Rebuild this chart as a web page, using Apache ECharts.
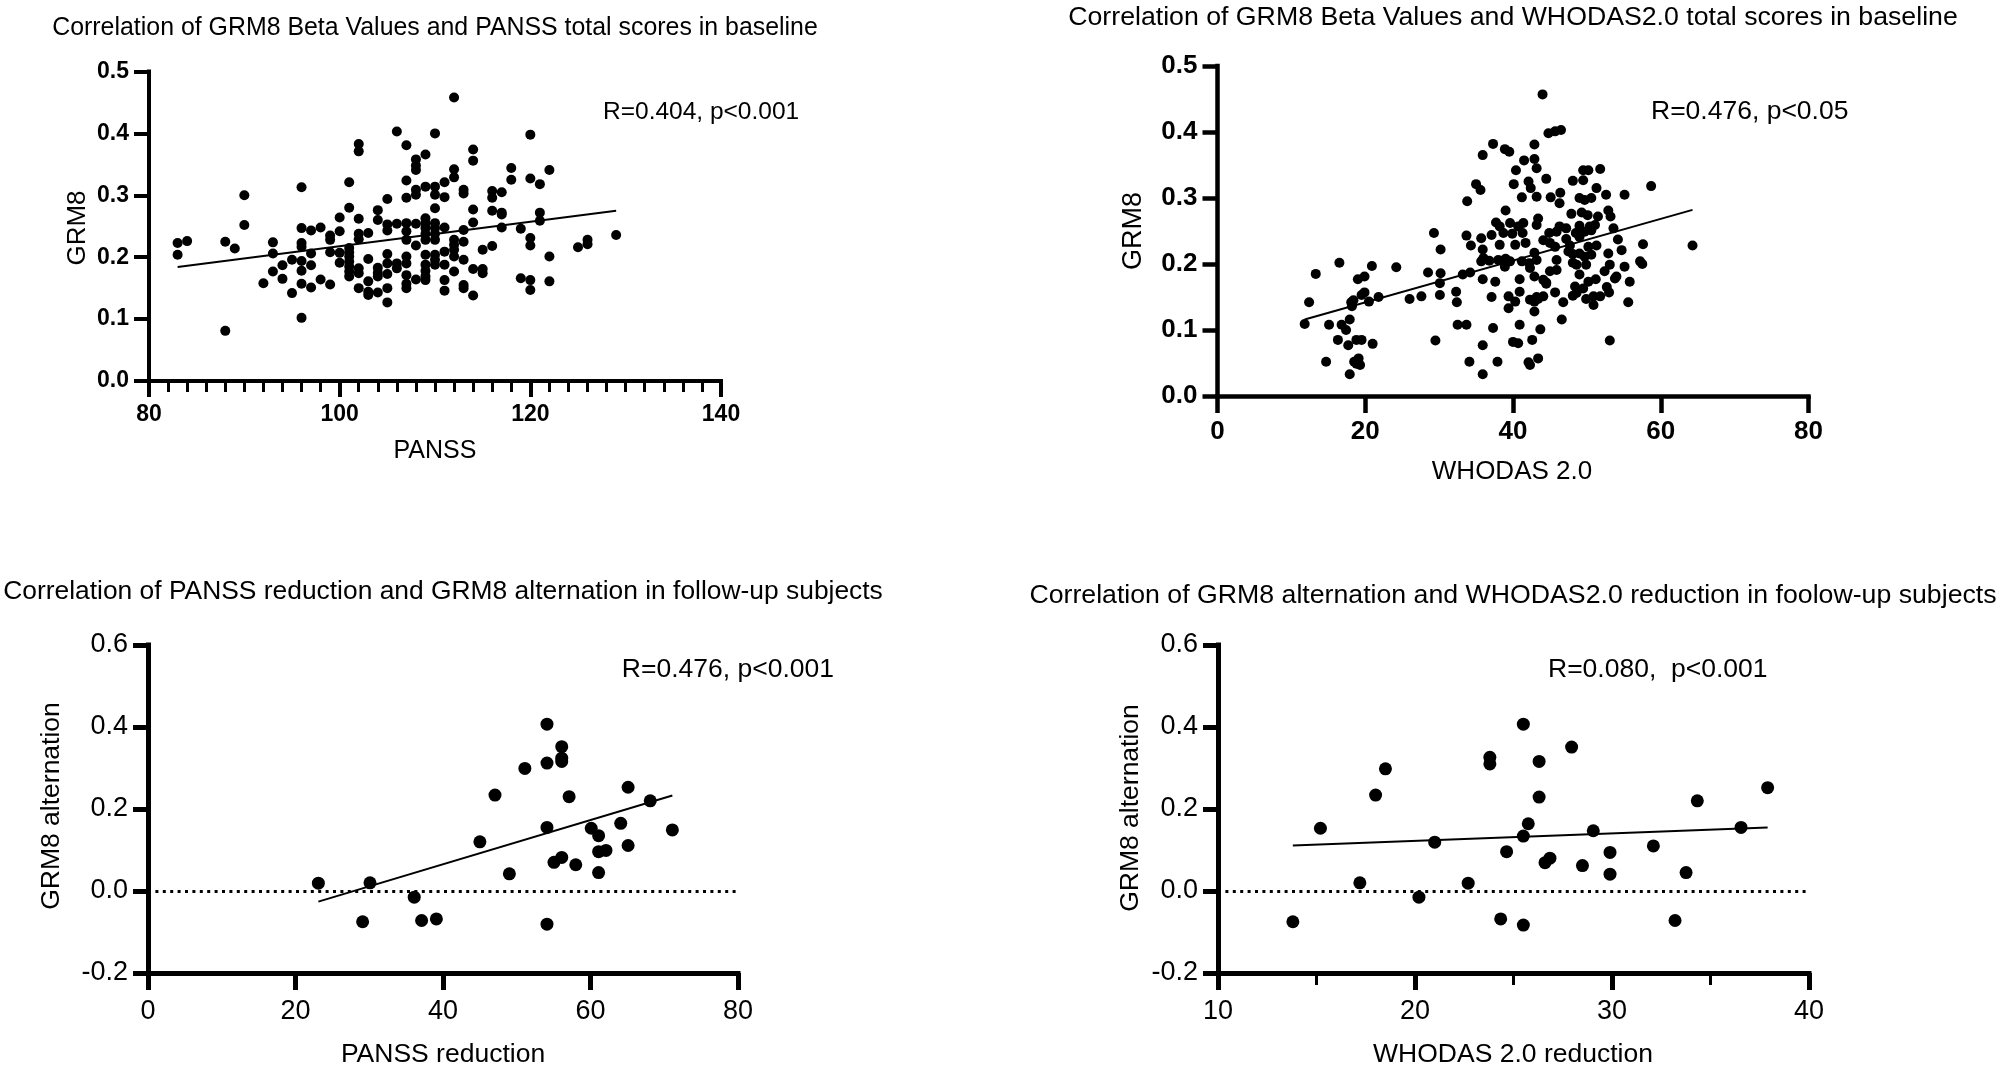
<!DOCTYPE html>
<html>
<head>
<meta charset="utf-8">
<script src="https://cdn.jsdelivr.net/npm/echarts@6/dist/echarts.min.js"></script>
<style>
html,body{margin:0;padding:0;background:#fff;}
#chart{width:2000px;height:1067px;}
</style>
</head>
<body>
<div id="chart"></div>
<script>
// ---------- DATA ----------
// Panel 1: PANSS total vs GRM8 beta (baseline)
const panssBaseline = [
[83,0.223],[83,0.204],[84,0.226],[88,0.225],[88,0.081],[89,0.214],[90,0.300],[90,0.252],[92,0.158],
[93,0.224],[93,0.206],[93,0.177],[94,0.187],[94,0.165],[95,0.196],[95,0.142],
[96,0.313],[96,0.247],[96,0.223],[96,0.217],[96,0.194],[96,0.178],[96,0.157],[96,0.102],
[97,0.243],[97,0.206],[97,0.187],[97,0.151],[98,0.248],[98,0.164],
[99,0.235],[99,0.228],[99,0.208],[99,0.156],[100,0.264],[100,0.242],[100,0.207],[100,0.191],
[101,0.321],[101,0.280],[101,0.215],[101,0.208],[101,0.201],[101,0.193],[101,0.185],[101,0.177],[101,0.169],
[102,0.383],[102,0.371],[102,0.262],[102,0.238],[102,0.229],[102,0.182],[102,0.174],[102,0.150],
[103,0.239],[103,0.197],[103,0.161],[103,0.144],[103,0.139],
[104,0.276],[104,0.260],[104,0.183],[104,0.175],[104,0.169],[104,0.143],
[105,0.294],[105,0.253],[105,0.243],[105,0.205],[105,0.190],[105,0.173],[105,0.150],[105,0.127],
[106,0.403],[106,0.254],[106,0.190],[106,0.182],
[107,0.381],[107,0.324],[107,0.296],[107,0.255],[107,0.242],[107,0.228],[107,0.201],[107,0.190],[107,0.171],[107,0.157],[107,0.150],
[108,0.358],[108,0.348],[108,0.341],[108,0.309],[108,0.301],[108,0.254],[108,0.219],[108,0.164],
[109,0.366],[109,0.314],[109,0.263],[109,0.255],[109,0.247],[109,0.238],[109,0.228],[109,0.204],[109,0.188],[109,0.178],[109,0.169],[109,0.163],
[110,0.400],[110,0.314],[110,0.301],[110,0.279],[110,0.255],[110,0.247],[110,0.238],[110,0.228],[110,0.204],[110,0.196],[110,0.188],
[111,0.321],[111,0.297],[111,0.248],[111,0.209],[111,0.188],[111,0.163],[111,0.146],
[112,0.458],[112,0.342],[112,0.329],[112,0.228],[112,0.220],[112,0.212],[112,0.201],[112,0.177],
[113,0.309],[113,0.303],[113,0.244],[113,0.225],[113,0.196],[113,0.155],[113,0.150],
[114,0.374],[114,0.356],[114,0.277],[114,0.256],[114,0.181],[114,0.138],
[115,0.212],[115,0.181],[115,0.174],[116,0.307],[116,0.296],[116,0.275],[116,0.218],
[117,0.305],[117,0.272],[117,0.269],[117,0.248],[118,0.344],[118,0.325],[119,0.246],[119,0.166],
[120,0.398],[120,0.327],[120,0.231],[120,0.219],[120,0.163],[120,0.147],
[121,0.318],[121,0.272],[121,0.259],[122,0.341],[122,0.201],[122,0.161],
[125,0.216],[126,0.228],[126,0.221],[129,0.236]
];
const fitPanssBaseline = [[83,0.184],[129,0.275]];

// Panel 2: WHODAS 2.0 total vs GRM8 beta (baseline)
const whodasBaseline = [
[44.0,0.457],[44.8,0.398],[45.7,0.401],[46.5,0.403],[37.3,0.382],[35.9,0.365],[38.9,0.374],[39.5,0.370],[42.9,0.381],
[41.5,0.357],[42.9,0.359],[43.2,0.345],[40.4,0.342],[44.5,0.329],[49.5,0.342],[50.2,0.342],[51.8,0.344],
[35.0,0.321],[35.6,0.312],[40.1,0.321],[42.1,0.325],[42.4,0.315],[48.1,0.326],[49.5,0.327],[58.7,0.318],
[33.8,0.295],[41.2,0.301],[43.2,0.302],[45.1,0.301],[46.4,0.308],[46.3,0.292],[49.0,0.300],[49.7,0.297],[50.6,0.300],[51.3,0.315],[52.6,0.305],[55.1,0.305],
[39.0,0.281],[47.9,0.276],[49.3,0.278],[50.1,0.274],[51.5,0.272],[52.9,0.281],[53.2,0.272],
[43.4,0.269],[37.7,0.263],[38.2,0.257],[39.6,0.262],[41.4,0.262],[40.7,0.257],[43.2,0.259],[46.3,0.257],[47.2,0.254],[49.0,0.258],[50.4,0.257],[51.1,0.259],
[29.3,0.247],[37.1,0.244],[38.7,0.247],[39.9,0.246],[41.3,0.247],[44.9,0.247],[45.9,0.249],[48.5,0.247],[49.7,0.249],[50.6,0.251],[53.6,0.254],
[33.7,0.243],[35.7,0.239],[44.1,0.236],[47.2,0.238],[49.0,0.241],[54.2,0.237],
[30.2,0.222],[34.3,0.228],[35.9,0.222],[38.2,0.229],[40.3,0.229],[41.7,0.232],[45.0,0.232],[45.7,0.226],[47.7,0.228],[51.3,0.228],[50.2,0.226],[54.7,0.221],[57.6,0.230],[64.3,0.228],
[42.9,0.217],[47.5,0.219],[48.1,0.215],[49.0,0.216],[52.9,0.216],
[35.7,0.204],[36.8,0.205],[38.0,0.206],[39.0,0.208],[39.6,0.204],[41.2,0.204],[42.2,0.201],[43.2,0.206],[45.9,0.206],[48.1,0.202],[49.7,0.211],[50.6,0.214],
[16.5,0.202],[20.9,0.197],[24.2,0.195],[36.0,0.209],[38.9,0.196],[42.3,0.194],[48.6,0.199],[49.9,0.199],[53.1,0.199],[55.1,0.196],[57.2,0.204],[57.5,0.200],
[28.5,0.187],[30.2,0.186],[33.2,0.184],[34.2,0.187],[13.3,0.185],[19.0,0.177],[19.9,0.181],
[35.9,0.177],[37.6,0.173],[40.9,0.177],[42.9,0.181],[44.1,0.176],[45.0,0.189],[45.9,0.191],[44.5,0.172],[49.0,0.184],[50.2,0.173],[51.2,0.177],[52.4,0.189],[53.8,0.178],[54.0,0.181],[55.8,0.173],
[30.1,0.171],[44.5,0.170],[48.4,0.166],[49.5,0.163],[52.7,0.165],
[19.9,0.157],[19.5,0.153],[21.8,0.150],[18.4,0.145],[18.1,0.142],[20.5,0.143],[12.4,0.142],[26.0,0.147],[27.6,0.151],[30.1,0.153],[32.3,0.158],[32.4,0.142],
[37.1,0.150],[39.4,0.151],[40.9,0.158],[43.2,0.150],[44.1,0.151],[45.7,0.157],[48.1,0.152],[48.6,0.156],[49.9,0.147],[50.9,0.151],[51.8,0.151],[53.0,0.157],[55.6,0.142],
[39.4,0.133],[40.3,0.143],[42.3,0.146],[42.9,0.143],[43.4,0.147],[46.8,0.142],[50.9,0.138],[18.2,0.136],[42.9,0.128],
[11.8,0.109],[15.1,0.108],[16.8,0.108],[17.9,0.116],[17.4,0.100],[32.5,0.108],[33.7,0.108],[37.3,0.103],[40.9,0.108],[43.7,0.101],[46.6,0.116],
[16.3,0.085],[17.7,0.077],[18.8,0.085],[19.5,0.085],[21.0,0.079],[29.5,0.084],[35.9,0.077],[40.0,0.082],[40.7,0.080],[42.6,0.085],[53.1,0.084],
[14.7,0.052],[18.5,0.052],[19.1,0.057],[18.8,0.049],[19.3,0.047],[34.1,0.052],[37.9,0.052],[42.1,0.051],[42.3,0.047],[43.4,0.057],
[17.9,0.033],[35.9,0.033]
];
const fitWhodasBaseline = [[11.8,0.116],[64.3,0.282]];

// Panel 3: PANSS reduction vs GRM8 alternation (follow-up)
const panssReduction = [
[23.1,0.019],[30.1,0.020],[29.1,-0.075],[36.1,-0.015],[37.1,-0.072],[39.1,-0.068],[45.0,0.120],[47.05,0.234],
[49.0,0.042],[51.1,0.299],[54.1,0.407],[54.1,0.312],[54.1,0.155],[54.1,-0.081],[56.1,0.352],[56.1,0.324],
[56.1,0.316],[57.1,0.230],[55.05,0.070],[56.1,0.082],[58.0,0.064],[60.1,0.153],[61.1,0.135],[61.1,0.096],
[62.1,0.099],[61.1,0.045],[64.1,0.165],[65.1,0.253],[65.1,0.111],[68.1,0.220],[71.1,0.149]
];
const fitPanssReduction = [[23.1,-0.026],[71.1,0.233]];

// Panel 4: WHODAS 2.0 reduction vs GRM8 alternation (follow-up)
const whodasReduction = [
[13.8,-0.075],[15.2,0.153],[17.2,0.020],[18.0,0.234],[18.5,0.298],[20.2,-0.015],[21.0,0.119],[22.7,0.019],
[23.8,0.326],[23.8,0.310],[24.35,-0.068],[24.65,0.096],[25.5,0.407],[25.5,0.134],[25.5,-0.083],[25.75,0.164],
[26.3,0.316],[26.3,0.229],[26.6,0.069],[26.85,0.080],[27.95,0.351],[28.5,0.062],[29.05,0.147],[29.9,0.094],
[29.9,0.041],[32.1,0.110],[33.2,-0.072],[33.76,0.045],[34.33,0.220],[36.55,0.155],[37.9,0.252]
];
const fitWhodasReduction = [[13.8,0.111],[37.9,0.155]];

// Texts
const titles = [
  "Correlation of GRM8 Beta Values and PANSS total scores in baseline",
  "Correlation of GRM8 Beta Values and WHODAS2.0 total scores in baseline",
  "Correlation of PANSS reduction and GRM8 alternation in follow-up subjects",
  "Correlation of GRM8 alternation and WHODAS2.0 reduction in foolow-up subjects"
];
const statTexts = ["R=0.404, p<0.001", "R=0.476, p<0.05", "R=0.476, p<0.001", "R=0.080,  p<0.001"];
const xNames = ["PANSS", "WHODAS 2.0", "PANSS reduction", "WHODAS 2.0 reduction"];
const yNames = ["GRM8", "GRM8", "GRM8 alternation", "GRM8 alternation"];

// ---------- CHART ----------
const FONT = "'Liberation Sans', Arial, Helvetica, sans-serif";
const chart = echarts.init(document.getElementById('chart'), null, {renderer:'canvas'});

function xAx(i, min, max, interval, minorSplit, o) {
  return {
    gridIndex:i, type:'value', min:min, max:max, interval:interval,
    axisLine:{show:true, onZero:false, lineStyle:{color:'#000', width:o.lw, cap:'square'}},
    axisTick:{show:true, length:o.tickLen, lineStyle:{color:'#000', width:o.lw}},
    minorTick:{show:minorSplit>0, splitNumber:minorSplit||5, length:o.minorLen||12, lineStyle:{color:'#000', width:3}},
    splitLine:{show:false}, minorSplitLine:{show:false},
    axisLabel:{fontFamily:FONT, fontSize:o.size, fontWeight:o.weight, color:'#000', margin:o.margin}
  };
}
function yAx(i, min, max, interval, o) {
  return {
    gridIndex:i, type:'value', min:min, max:max, interval:interval,
    axisLine:{show:true, onZero:false, lineStyle:{color:'#000', width:o.lw, cap:'square'}},
    axisTick:{show:true, length:15, lineStyle:{color:'#000', width:o.lw}},
    splitLine:{show:false},
    axisLabel:{fontFamily:FONT, fontSize:o.size, fontWeight:o.weight, color:'#000', margin:o.margin,
      formatter:function(v){return v.toFixed(1);}}
  };
}

function scatter(i, data, size) {
  return {type:'scatter', xAxisIndex:i, yAxisIndex:i, data:data, symbol:'circle', symbolSize:size,
    itemStyle:{color:'#000', opacity:1}, silent:true, z:3};
}
function fit(i, data, zeroLine) {
  const s = {type:'line', xAxisIndex:i, yAxisIndex:i, data:data, symbol:'none', silent:true,
    lineStyle:{color:'#000', width:2}, z:2};
  if (zeroLine) {
    s.markLine = {silent:true, symbol:'none', label:{show:false},
      lineStyle:{color:'#000', width:3, type:[3,4.4], cap:'butt'},
      data:[{yAxis:0}]};
  }
  return s;
}

function txt(x, y, text, size, align, rot) {
  return {type:'text', x:x, y:y, rotation:rot||0, silent:true,
    style:{text:text, x:0, y:0, fill:'#000', font: size + "px " + FONT,
      textAlign:align||'left', textVerticalAlign:'middle'}};
}

const option = {
  backgroundColor:'#fff',
  animation:false,
  grid:[
    {left:149, top:71.5, width:572, height:309.5},
    {left:1217.5, top:66, width:591, height:330},
    {left:148, top:645, width:590, height:328},
    {left:1218, top:645, width:591, height:328}
  ],
  xAxis:[
    xAx(0, 80, 140, 20, 10, {size:23, weight:'bold', margin:22, tickLen:16, minorLen:11, lw:4}),
    xAx(1, 0, 80, 20, 0, {size:26, weight:'bold', margin:23, tickLen:17, lw:4.5}),
    xAx(2, 0, 80, 20, 0, {size:27, weight:'normal', margin:25, tickLen:17, lw:5}),
    xAx(3, 10, 40, 10, 2, {size:27, weight:'normal', margin:25, tickLen:17, minorLen:12, lw:5})
  ],
  yAxis:[
    yAx(0, 0, 0.5, 0.1, {size:23, weight:'bold', margin:20, lw:4}),
    yAx(1, 0, 0.5, 0.1, {size:26, weight:'bold', margin:20, lw:4.5}),
    yAx(2, -0.2, 0.6, 0.2, {size:27, weight:'normal', margin:20, lw:5}),
    yAx(3, -0.2, 0.6, 0.2, {size:27, weight:'normal', margin:20, lw:5})
  ],
  series:[
    fit(0, fitPanssBaseline, false),
    scatter(0, panssBaseline, 10),
    fit(1, fitWhodasBaseline, false),
    scatter(1, whodasBaseline, 10),
    fit(2, fitPanssReduction, true),
    scatter(2, panssReduction, 13),
    fit(3, fitWhodasReduction, true),
    scatter(3, whodasReduction, 13)
  ],
  graphic:[
    txt(435, 28, titles[0], 24.9, 'center'),
    txt(1513, 18, titles[1], 26.7, 'center'),
    txt(443, 592, titles[2], 26.4, 'center'),
    txt(1513, 596, titles[3], 26.7, 'center'),
    txt(603, 112, statTexts[0], 24.5),
    txt(1651, 112, statTexts[1], 26.5),
    txt(834, 670, statTexts[2], 26.5, 'right'),
    txt(1548, 670, statTexts[3], 26.5),
    txt(435, 451, xNames[0], 25, 'center'),
    txt(1512, 472, xNames[1], 26, 'center'),
    txt(443, 1055, xNames[2], 26.5, 'center'),
    txt(1513, 1055, xNames[3], 26.5, 'center'),
    txt(78, 228, yNames[0], 26, 'center', Math.PI/2),
    txt(1134, 231, yNames[1], 27, 'center', Math.PI/2),
    txt(52, 806, yNames[2], 26.5, 'center', Math.PI/2),
    txt(1131, 808, yNames[3], 26.5, 'center', Math.PI/2)
  ]
};
chart.setOption(option);
</script>
</body>
</html>
